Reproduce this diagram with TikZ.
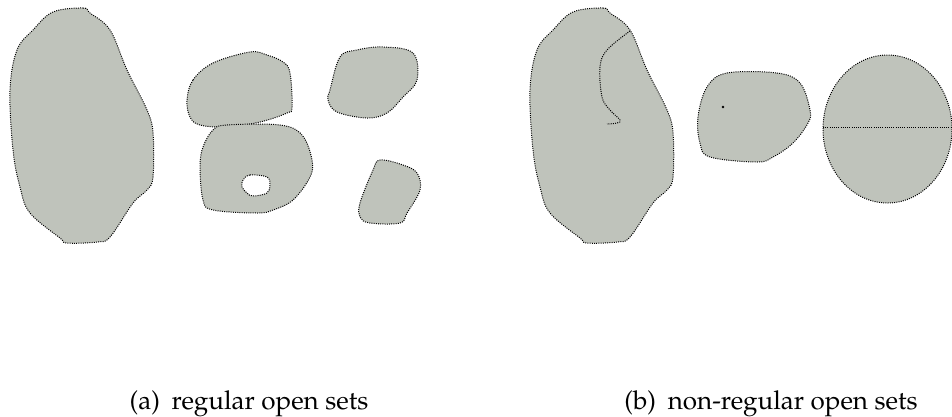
\documentclass[tikz,border=0pt]{standalone}
\usepackage[T1]{fontenc}
\usepackage{mathpazo}
\definecolor{setgray}{RGB}{191,195,187}
\tikzset{
  setshape/.style={fill=setgray, draw=black, line width=1pt, dash pattern=on 1pt off 1.2pt},
  cutline/.style={draw=black, line width=1pt, dash pattern=on 1pt off 1.2pt},
  captiontext/.style={font=\fontsize{26}{30}\selectfont, inner sep=0pt, anchor=base}
}
\begin{document}
\begin{tikzpicture}[x=1pt,y=-1pt]
\useasboundingbox (0,0) rectangle (952,416);
% (a) regular open sets
\path[setshape] plot[smooth cycle, tension=0.6] coordinates {(53,12) (83,8) (90,13) (110,30) (127,70) (147,110) (153,133) (153,177) (147,190) (133,203) (110,237) (97,242) (67,243) (60,238) (30,213) (20,187) (13,150) (10,90) (17,50) (33,30)};
\path[setshape] plot[smooth cycle, tension=0.6] coordinates {(187,100) (193,80) (213,63) (250,52) (267,55) (283,62) (290,73) (292,107) (287,113) (260,122) (227,127) (200,125) (190,117)};
\path[setshape, even odd rule] plot[smooth cycle, tension=0.6] coordinates {(213,130) (227,125) (280,125) (302,135) (312,160) (310,177) (293,200) (273,210) (257,213) (213,210) (203,200) (200,167) (203,147)}
  plot[smooth cycle, tension=0.6] coordinates {(243,180) (250,175) (267,177) (270,185) (267,193) (253,196) (247,193) (242,187)};
\path[setshape] plot[smooth cycle, tension=0.6] coordinates {(330,90) (340,57) (357,50) (383,47) (413,53) (417,80) (403,97) (387,113) (367,118) (337,112) (328,100)};
\path[setshape] plot[smooth cycle, tension=0.6] coordinates {(380,160) (403,165) (417,173) (420,190) (407,213) (400,223) (370,223) (360,217) (360,203) (373,170)};
% (b) non-regular open sets
\begin{scope}[xshift=520pt]
\path[setshape] plot[smooth cycle, tension=0.6] coordinates {(53,12) (83,8) (90,13) (110,30) (127,70) (147,110) (153,133) (153,177) (147,190) (133,203) (110,237) (97,242) (67,243) (60,238) (30,213) (20,187) (13,150) (10,90) (17,50) (33,30)};
\end{scope}
\path[cutline] plot[smooth, tension=0.6] coordinates {(630,31) (607,50) (600,67) (602,97) (610,110) (620,120) (617,123) (607,124)};
\path[setshape] plot[smooth cycle, tension=0.6] coordinates {(727,73) (777,73) (800,83) (810,110) (808,123) (793,143) (773,157) (757,162) (710,157) (700,143) (698,117) (707,87)};
\fill[black] (723,107) circle (1.3pt);
\path[setshape] (887.5,129) ellipse [x radius=64.5, y radius=74];
\coordinate (cutL) at (823,127);
\coordinate (cutR) at (952,127);
\path[cutline] (cutL) -- (cutR);
% captions
\node[captiontext] (capa) at (249,409) {(a)\hspace{0.45em}regular open sets};
\node[captiontext] (capb) at (771,409) {(b)\hspace{0.45em}non-regular open sets};
\end{tikzpicture}
\end{document}
